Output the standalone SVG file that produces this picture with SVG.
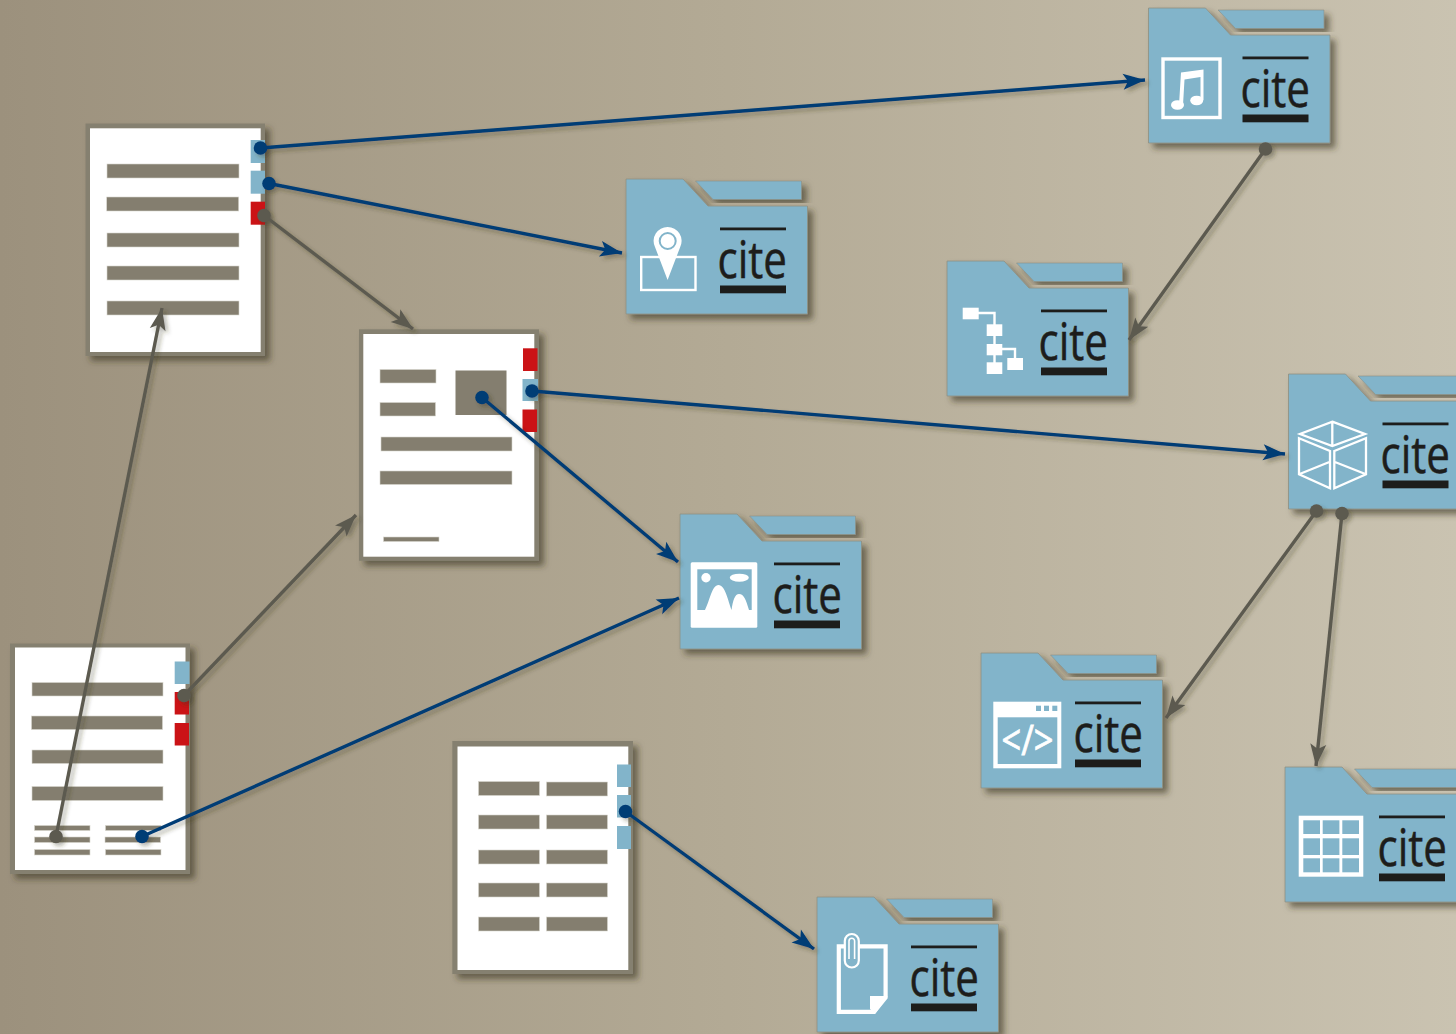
<svg xmlns="http://www.w3.org/2000/svg" width="1456" height="1034" viewBox="0 0 1456 1034">
<style>
.cite{font-family:"Open Sans","Liberation Sans",sans-serif;font-size:52px;fill:#1d1d1b;stroke:#1d1d1b;stroke-width:.5}
.doc-frame{fill:#85806f}
.doc-page{fill:#fff}
.bar{fill:#847e6f;stroke:#d8d5cd;stroke-width:.6}
.blue-tab{fill:#82b4ca}
.red-tab{fill:#cb1316}
.w{fill:#fff}
.ws{fill:none;stroke:#fff}
.f{fill:#82b4ca}
.conn{fill:none;stroke-width:3.4}
.b{stroke:#053c75}
.g{stroke:#5c5a50}
</style>
<defs>
<linearGradient id="bg" x1="0" y1="0" x2="1" y2="0">
<stop offset="0" stop-color="#9c917d"/><stop offset=".5" stop-color="#b3aa95"/><stop offset="1" stop-color="#cac3b1"/>
</linearGradient>
<filter id="sh" x="-15%" y="-15%" width="130%" height="130%">
<feDropShadow dx="5" dy="5" stdDeviation="3.2" flood-color="#38321f" flood-opacity=".6"/>
</filter>
<filter id="shc" x="-5%" y="-5%" width="110%" height="110%">
<feDropShadow dx="3" dy="3" stdDeviation="2" flood-color="#38321f" flood-opacity=".35"/>
</filter>
<g id="folder">
<path d="M69.500,2H175.500V20.500H87Z" fill="#82b4ca" stroke="#8f8f80" stroke-width=".6" filter="url(#sh)"/>
<path d="M0,0H57L82,27H181.500V135H0Z" fill="#82b4ca" stroke="#8f8f80" stroke-width=".8" filter="url(#sh)"/>
<rect x="94" y="48.500" width="66" height="2.800" fill="#1d1d1b"/>
<rect x="94" y="106.500" width="66" height="7.800" fill="#1d1d1b"/>
</g>
<marker id="ab" markerUnits="userSpaceOnUse" markerWidth="24" markerHeight="18" refX="22" refY="8" orient="auto" overflow="visible"><path d="M22,8L0,0L5,8L0,16Z" fill="#053c75"/></marker>
<marker id="ag" markerUnits="userSpaceOnUse" markerWidth="24" markerHeight="18" refX="22" refY="8" orient="auto" overflow="visible"><path d="M22,8L0,0L5,8L0,16Z" fill="#5c5a50"/></marker>
<marker id="db" markerUnits="userSpaceOnUse" markerWidth="14" markerHeight="14" refX="7" refY="7" overflow="visible"><circle cx="7" cy="7" r="6.800" fill="#053c75"/></marker>
<marker id="dg" markerUnits="userSpaceOnUse" markerWidth="14" markerHeight="14" refX="7" refY="7" overflow="visible"><circle cx="7" cy="7" r="6.800" fill="#5c5a50"/></marker>
</defs>
<rect width="1456" height="1034" fill="url(#bg)"/>

<g id="doc-1">
<rect class="doc-frame" x="85.500" y="123.500" width="179.500" height="232.500" filter="url(#sh)"/>
<rect class="doc-page" x="90" y="128.300" width="170.700" height="223.700"/>
<rect class="bar" x="107" y="164" width="132" height="14"/>
<rect class="bar" x="106.700" y="197" width="132" height="14"/>
<rect class="bar" x="107" y="233" width="132" height="14"/>
<rect class="bar" x="107" y="266" width="132" height="14"/>
<rect class="bar" x="107" y="301" width="132" height="14"/>
<rect class="blue-tab" x="250.700" y="140" width="14.300" height="23"/>
<rect class="blue-tab" x="250.700" y="170.700" width="14.300" height="23"/>
<rect class="red-tab" x="250.700" y="201.700" width="14.300" height="23"/>
</g>
<g id="doc-2">
<rect class="doc-frame" x="359" y="329.300" width="180" height="231.500" filter="url(#sh)"/>
<rect class="doc-page" x="363.300" y="334" width="171" height="222.700"/>
<rect class="bar" x="380" y="369.500" width="56" height="13.500"/>
<rect class="bar" x="380" y="402.500" width="55.500" height="13.500"/>
<rect class="bar" x="381" y="437" width="131" height="14"/>
<rect class="bar" x="380" y="471" width="132" height="13.500"/>
<rect class="bar" x="383.500" y="537" width="55.500" height="4.500"/>
<rect x="455.500" y="370.500" width="51" height="44.500" fill="#847e6f"/>
<rect class="red-tab" x="523" y="348.300" width="14.500" height="22.700"/>
<rect class="blue-tab" x="522.500" y="379" width="15.500" height="22"/>
<rect class="red-tab" x="522.500" y="409.500" width="14.500" height="22.500"/>
</g>
<g id="doc-3">
<rect class="doc-frame" x="10" y="643.500" width="180" height="230.500" filter="url(#sh)"/>
<rect class="doc-page" x="15" y="647.500" width="170.500" height="222.500"/>
<rect class="bar" x="32" y="682.500" width="131" height="13.500"/>
<rect class="bar" x="31.500" y="716" width="131" height="13.500"/>
<rect class="bar" x="32" y="750" width="131" height="13.500"/>
<rect class="bar" x="32" y="786.500" width="131" height="14"/>
<rect class="bar" x="34.500" y="825.500" width="55.500" height="5"/>
<rect class="bar" x="34.500" y="837" width="55.500" height="5.500"/>
<rect class="bar" x="34.500" y="849.500" width="55.500" height="5.500"/>
<rect class="bar" x="105.500" y="825.500" width="55.500" height="5"/>
<rect class="bar" x="105" y="837" width="55.500" height="5.500"/>
<rect class="bar" x="105.500" y="849.500" width="55.500" height="5.500"/>
<rect class="blue-tab" x="174.700" y="661.500" width="14.800" height="22.500"/>
<rect class="red-tab" x="174.700" y="692" width="14.300" height="22.500"/>
<rect class="red-tab" x="174.700" y="723" width="14.300" height="22.500"/>
</g>
<g id="doc-4">
<rect class="doc-frame" x="452.300" y="741" width="180.700" height="233" filter="url(#sh)"/>
<rect class="doc-page" x="457.500" y="746.500" width="170.800" height="223.500"/>
<rect class="bar" x="478.500" y="781.500" width="61" height="14"/>
<rect class="bar" x="546.500" y="782" width="61" height="14"/>
<rect class="bar" x="478.500" y="815" width="61" height="14"/>
<rect class="bar" x="546.500" y="815" width="61" height="14"/>
<rect class="bar" x="478.500" y="850" width="61" height="14"/>
<rect class="bar" x="546.500" y="850" width="61" height="14"/>
<rect class="bar" x="478.500" y="883" width="61" height="14"/>
<rect class="bar" x="546.500" y="883" width="61" height="14"/>
<rect class="bar" x="478.500" y="917" width="61" height="14"/>
<rect class="bar" x="546.500" y="917" width="61" height="14"/>
<rect class="blue-tab" x="617" y="764.500" width="14" height="22.500"/>
<rect class="blue-tab" x="617" y="795" width="14" height="22.500"/>
<rect class="blue-tab" x="617" y="826" width="14" height="23"/>
</g>

<g id="folder-music">
<use href="#folder" x="1148.500" y="8"/>
<text class="cite" transform="translate(1240.500 106.500) scale(.81 1)">cite</text>
<rect class="ws" x="1163" y="59" width="57" height="58.500" stroke-width="3.400"/>
<path class="w" d="M1179,105L1181,72.500L1203.500,69.500V100H1200.500V77L1184.500,79.500L1183,105Z"/>
<ellipse class="w" cx="1177.500" cy="105" rx="6.500" ry="4.800"/>
<ellipse class="w" cx="1196.700" cy="100.500" rx="6.500" ry="4.800"/>
</g>
<g id="folder-location">
<use href="#folder" x="626" y="179"/>
<text class="cite" transform="translate(717.500 277.500) scale(.81 1)">cite</text>
<rect class="ws" x="641.200" y="257" width="54.300" height="33" stroke-width="2.400"/>
<path class="w" d="M667.600,280L655,247A14,14 0 1 1 680.200,247Z"/>
<circle cx="667.700" cy="241" r="8" fill="#fff" stroke="#82b4ca" stroke-width="2"/>
</g>
<g id="folder-tree">
<use href="#folder" x="947" y="261"/>
<text class="cite" transform="translate(1038.500 359.500) scale(.81 1)">cite</text>
<path class="ws" stroke-width="2.400" d="M978,313H994.500V368M1002,349H1015V360"/>
<rect class="w" x="962.700" y="307.700" width="16" height="11.600"/>
<rect class="w" x="986.700" y="324.300" width="15.600" height="11.700"/>
<rect class="w" x="986.700" y="344" width="15.600" height="11.300"/>
<rect class="w" x="986.700" y="362.300" width="15.600" height="11.700"/>
<rect class="w" x="1007.300" y="358" width="15.700" height="12"/>
</g>
<g id="folder-cube">
<use href="#folder" x="1288.500" y="374"/>
<text class="cite" transform="translate(1380.500 472.500) scale(.81 1)">cite</text>
<path class="ws" stroke-width="2.300" d="M1332.300,421.700L1365,434L1332.300,446L1300,434ZM1332.300,421.700V446M1299,438.300L1330,451V488.300L1299,474.300ZM1334.300,451L1366,438.300V474.300L1334.300,488.300ZM1299,474.300L1330,461.700M1334.300,461.700L1366,474.300"/>
</g>
<g id="folder-image">
<use href="#folder" x="680" y="514"/>
<text class="cite" transform="translate(772.500 612.500) scale(.81 1)">cite</text>
<rect class="w" x="690.700" y="562.300" width="66.600" height="65.400" rx="1.500"/>
<rect class="f" x="697.300" y="569.300" width="54.400" height="40.700"/>
<path class="w" d="M705,610C710,600 712,585 718.500,585C725,585 728,600 731.500,610C733,600 735,594 739,594C744,594 746,600 749,610Z"/>
<circle class="w" cx="706" cy="577.700" r="4.700"/>
<ellipse class="w" cx="739.300" cy="577.700" rx="9.500" ry="4"/>
</g>
<g id="folder-code">
<use href="#folder" x="981" y="653"/>
<text class="cite" transform="translate(1073.500 751.500) scale(.81 1)">cite</text>
<rect class="w" x="993.300" y="701.700" width="68" height="66.600"/>
<rect class="f" x="997.700" y="717.300" width="59.600" height="46.700"/>
<rect class="f" x="1036" y="705.700" width="5" height="5.300"/>
<rect class="f" x="1044" y="705.700" width="5" height="5.300"/>
<rect class="f" x="1052.300" y="705.700" width="5" height="5.300"/>
<text x="1027.500" y="755" text-anchor="middle" font-family="'Open Sans','Liberation Sans',sans-serif" font-size="42" fill="#fff" stroke="#fff" stroke-width=".8" textLength="52" lengthAdjust="spacingAndGlyphs">&lt;/&gt;</text>
</g>
<g id="folder-table">
<use href="#folder" x="1285" y="767"/>
<text class="cite" transform="translate(1377.500 865.500) scale(.81 1)">cite</text>
<rect class="w" x="1298.700" y="815.700" width="64.600" height="61"/>
<rect class="f" x="1303.300" y="820.300" width="16.700" height="13.700"/>
<rect class="f" x="1322.700" y="820.300" width="16.700" height="13.700"/>
<rect class="f" x="1342.300" y="820.300" width="16.700" height="13.700"/>
<rect class="f" x="1303.300" y="838.300" width="16.700" height="16.700"/>
<rect class="f" x="1322.700" y="838.300" width="16.700" height="16.700"/>
<rect class="f" x="1342.300" y="838.300" width="16.700" height="16.700"/>
<rect class="f" x="1303.300" y="858.300" width="16.700" height="14"/>
<rect class="f" x="1322.700" y="858.300" width="16.700" height="14"/>
<rect class="f" x="1342.300" y="858.300" width="16.700" height="14"/>
</g>
<g id="folder-attachment">
<use href="#folder" x="817" y="897"/>
<text class="cite" transform="translate(909.500 995.500) scale(.81 1)">cite</text>
<path class="ws" stroke-width="4.200" d="M838.800,946.400H885.600V997.500L874,1011.900H838.800Z"/>
<path class="w" d="M870,996H887.700L875,1014L870,1009Z"/>
<rect x="844.800" y="934" width="14" height="33.500" rx="7" fill="#82b4ca" stroke="#fff" stroke-width="2.200"/>
<path class="ws" stroke-width="1.600" d="M849,959V941A2.800,2.800 0 0 1 854.600,941V959"/>
</g>

<g id="connectors" filter="url(#shc)">
<path class="conn b" d="M260.500,148L1145,80" marker-start="url(#db)" marker-end="url(#ab)"/>
<path class="conn b" d="M269,183.500L622,253" marker-start="url(#db)" marker-end="url(#ab)"/>
<path class="conn g" d="M264,215.500L413,329" marker-start="url(#dg)" marker-end="url(#ag)"/>
<path class="conn b" d="M532,391L1285,454" marker-start="url(#db)" marker-end="url(#ab)"/>
<path class="conn b" d="M482,397.500L678,562" marker-start="url(#db)" marker-end="url(#ab)"/>
<path class="conn b" d="M142,836.500L679,598" marker-start="url(#db)" marker-end="url(#ab)"/>
<path class="conn g" d="M184,695.500L356,515" marker-start="url(#dg)" marker-end="url(#ag)"/>
<path class="conn g" d="M56,836.500L162,308" marker-start="url(#dg)" marker-end="url(#ag)"/>
<path class="conn b" d="M625.500,811.500L814,949" marker-start="url(#db)" marker-end="url(#ab)"/>
<path class="conn g" d="M1265.500,149L1129,340" marker-start="url(#dg)" marker-end="url(#ag)"/>
<path class="conn g" d="M1316.500,511L1166,718" marker-start="url(#dg)" marker-end="url(#ag)"/>
<path class="conn g" d="M1342,513.500L1316,766" marker-start="url(#dg)" marker-end="url(#ag)"/>
</g>
</svg>
